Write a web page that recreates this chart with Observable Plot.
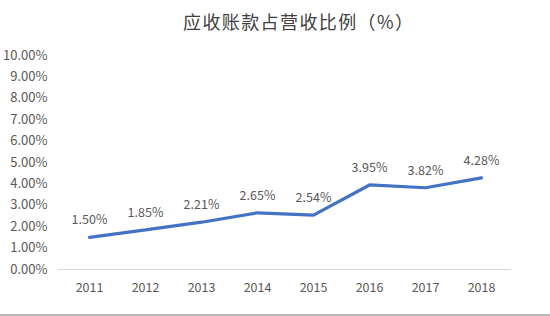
<!DOCTYPE html>
<html>
<head>
<meta charset="utf-8">
<script src="https://cdn.jsdelivr.net/npm/d3@7"></script>
<script src="https://cdn.jsdelivr.net/npm/@observablehq/plot@0.6"></script>
<style>
  html, body { margin: 0; padding: 0; background: #fff; }
  #wrap { width: 550px; height: 316px; position: relative; overflow: hidden; box-sizing: border-box; border-bottom: 2px solid #b8b8b8; }
  #title { height: 40px; line-height: 42px; padding-left: 183px; white-space: nowrap; font-family: "Noto Sans CJK SC", sans-serif; font-size: 18px; color: #404040; letter-spacing: 1.4px; }
</style>
</head>
<body>
<div id="wrap">
  <div id="title">应收账款占营收比例（%）</div>
  <div id="chart"></div>
</div>
<script>
const years = ["2011", "2012", "2013", "2014", "2015", "2016", "2017", "2018"];
const ratios = [1.50, 1.85, 2.21, 2.65, 2.54, 3.95, 3.82, 4.28];
const yTicks = [0, 1, 2, 3, 4, 5, 6, 7, 8, 9, 10];

const data = years.map((y, i) => ({year: y, value: ratios[i]}));
const fmt = v => v.toFixed(2) + "%";

const chart = Plot.plot({
  width: 550,
  height: 274,
  marginTop: 15,
  marginBottom: 45,
  marginLeft: 58,
  marginRight: 39,
  style: {fontFamily: "'Noto Sans CJK SC', sans-serif", fontSize: "12px", color: "#595959", background: "#fff"},
  x: {type: "band", domain: years, label: null, padding: 0, align: 0.5},
  y: {domain: [0, 10], label: null},
  marks: [
    Plot.ruleY([0], {stroke: "#d9d9d9", strokeWidth: 1}),
    Plot.axisY(yTicks, {tickSize: 0, tickPadding: 11, tickFormat: fmt, fontSize: 13, fill: "#595959"}),
    Plot.axisX({tickSize: 0, tickPadding: 14, fontSize: 12.5, fill: "#595959"}),
    Plot.line(data, {x: "year", y: "value", stroke: "#4472C4", strokeWidth: 3.2, strokeLinejoin: "miter"}),
    Plot.text(data, {x: "year", y: "value", text: d => fmt(d.value), dy: -17, fontSize: 12.5, fill: "#595959"})
  ]
});
document.getElementById("chart").appendChild(chart);
</script>
</body>
</html>
